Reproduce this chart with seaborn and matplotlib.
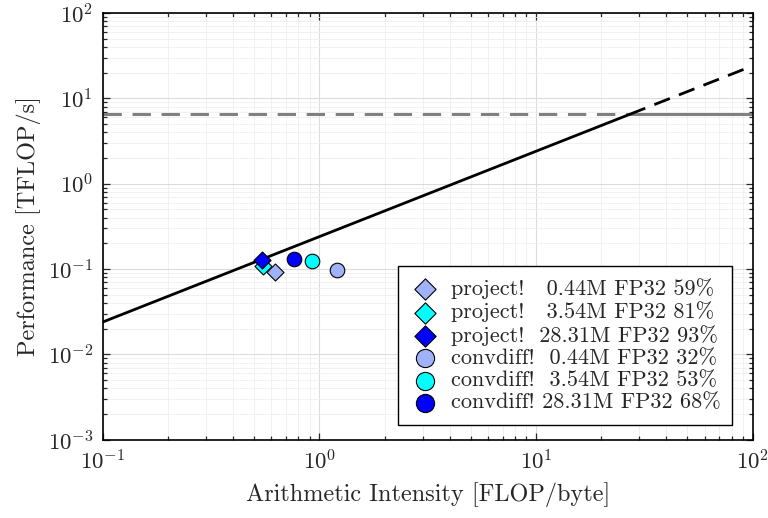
import numpy as np
import pandas as pd
import matplotlib
matplotlib.use("Agg")
import matplotlib.pyplot as plt
import seaborn as sns

# ---- data ----
kernels = ["project!", "project!", "project!", "convdiff!", "convdiff!", "convdiff!"]
sizes = ["0.44M", "3.54M", "28.31M", "0.44M", "3.54M", "28.31M"]
precision = ["FP32"] * 6
efficiency = ["59%", "81%", "93%", "32%", "53%", "68%"]
intensity = [0.62, 0.55, 0.54, 1.21, 0.92, 0.76]        # FLOP/byte
performance = [0.092, 0.110, 0.128, 0.098, 0.123, 0.131]  # TFLOP/s
peak_flops = 6.5      # TFLOP/s
bandwidth = 0.24      # TB/s
x_limits = [0.1, 100.0]
y_limits = [1e-3, 1e2]

colors = ["#a0b2fa", "#00ffff", "#0000ff", "#a0b2fa", "#00ffff", "#0000ff"]
markers = ["D", "D", "D", "o", "o", "o"]
labels = [
    "project!   0.44M FP32 59%",
    "project!   3.54M FP32 81%",
    "project!  28.31M FP32 93%",
    "convdiff!  0.44M FP32 32%",
    "convdiff!  3.54M FP32 53%",
    "convdiff! 28.31M FP32 68%",
]

# ---- style ----
sns.set_theme(style="ticks")
plt.rcParams["font.family"] = ["serif"]
plt.rcParams["font.serif"] = ["cmr10", "DejaVu Serif"]
plt.rcParams["mathtext.fontset"] = "cm"
plt.rcParams["axes.formatter.use_mathtext"] = True
plt.rcParams["axes.unicode_minus"] = False

fig = plt.figure(figsize=(7.68, 5.18), dpi=100)
ax = fig.add_axes([0.134, 0.151, 0.846, 0.824])
ax.set_xscale("log")
ax.set_yscale("log")

ridge = peak_flops / bandwidth
x_mem = np.array([x_limits[0], ridge])
x_mem_ext = np.array([ridge, x_limits[1]])
x_peak_lo = np.array([x_limits[0], ridge])
x_peak_hi = np.array([ridge, x_limits[1]])

sns.lineplot(x=x_peak_lo, y=[peak_flops] * 2, ax=ax, color="#808080", lw=2.2,
             linestyle=(0, (6, 3.5)), zorder=2)
sns.lineplot(x=x_peak_hi, y=[peak_flops] * 2, ax=ax, color="#808080", lw=2.2, zorder=2)
sns.lineplot(x=x_mem, y=bandwidth * x_mem, ax=ax, color="black", lw=2.0, zorder=3)
sns.lineplot(x=x_mem_ext, y=bandwidth * x_mem_ext, ax=ax, color="black", lw=2.0,
             linestyle=(0, (6, 3.5)), zorder=3)

for i in range(len(kernels)):
    sns.scatterplot(x=[intensity[i]], y=[performance[i]], ax=ax, marker=markers[i],
                    color=colors[i], edgecolor="black", linewidth=0.8,
                    s=75 if markers[i] == "D" else 110, label=labels[i], zorder=4)

ax.set_xlim(*x_limits)
ax.set_ylim(*y_limits)
ax.grid(True, which="major", color="#dcdcdc", lw=0.8)
ax.grid(True, which="minor", color="#efefef", lw=0.6)
ax.set_axisbelow(True)
for s in ax.spines.values():
    s.set_linewidth(1.2)
    s.set_color("black")
ax.tick_params(which="both", direction="in", top=True, right=True, labelsize=16.5,
               width=0.9)
ax.tick_params(which="major", length=5, pad=7)
ax.tick_params(which="minor", length=3)
ax.set_xlabel("Arithmetic Intensity [FLOP/byte]", fontsize=17.5, labelpad=6)
ax.set_ylabel("Performance [TFLOP/s]", fontsize=17.5, labelpad=5)

leg = ax.legend(loc="lower right", fontsize=16, frameon=True, fancybox=False,
                edgecolor="black", framealpha=1, borderpad=0.55, labelspacing=0.12,
                handlelength=1.3, handletextpad=0.5, markerscale=1.25,
                borderaxespad=0.0, bbox_to_anchor=(0.969, 0.035))
leg.get_frame().set_linewidth(1.0)

fig.savefig("out.png", dpi=100)
